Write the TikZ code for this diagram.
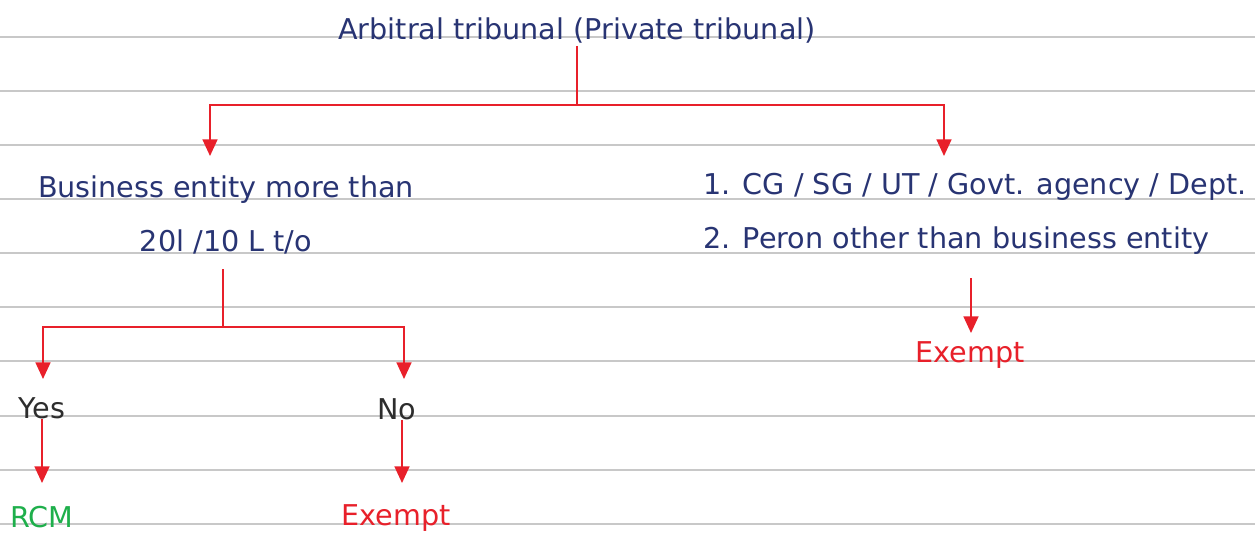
\documentclass[tikz,border=0pt]{standalone}
\usepackage{fontspec}
\setmainfont{DejaVu Sans}
\usetikzlibrary{arrows.meta}
\definecolor{ink}{RGB}{40,52,115}
\definecolor{penred}{RGB}{232,32,42}
\definecolor{pengreen}{RGB}{30,175,75}
\definecolor{rulegray}{RGB}{200,200,200}
\definecolor{darkink}{RGB}{45,45,45}
\begin{document}
\begin{tikzpicture}[x=0.02cm,y=-0.02cm,
  txt/.style={inner sep=0pt, anchor=base, font=\fontsize{16.3}{19}\selectfont, text=ink},
  ltxt/.style={txt, anchor=base west},
  conn/.style={draw=penred, line width=1.1pt},
  arr/.style={conn, -{Triangle[width=8.5pt,length=9.5pt]}},
]
\useasboundingbox (0,0) rectangle (1255,532);
\fill[white] (0,0) rectangle (1255,532);
% ruled paper
\foreach \y in {37,91,145,199,253,307,361,416,470,524}
  \draw[rulegray, line width=1.1pt] (0,\y) -- (1255,\y);

% texts
\node[txt] (title) at (577,39) {Arbitral tribunal (Private tribunal)};
\node[txt] (bizA) at (226,197) {Business entity more than};
\node[txt] (bizB) at (226,251) {20l /10 L t/o};
\node[ltxt] (govA) at (703,194) {1. CG / SG / UT / Govt. agency / Dept.};
\node[ltxt] (govB) at (703,248) {2. Peron other than business entity};
\node[txt, text=darkink] (yes) at (42,418) {Yes};
\node[txt, text=darkink] (no) at (397,419) {No};
\node[txt, text=pengreen] (rcm) at (42,527) {RCM};
\node[txt, text=penred] (exL) at (396,525) {Exempt};
\node[txt, text=penred] (exR) at (970,362) {Exempt};

% junctions and arrow targets
\coordinate (split1) at (577,105);
\coordinate (inA) at (210,156);
\coordinate (inG) at (944,156);
\coordinate (stem2) at (223,269);
\coordinate (split2) at (223,327);
\coordinate (inYes) at (43,379);
\coordinate (inNo) at (404,379);
\coordinate (inRcm) at (42,483);
\coordinate (inExL) at (402,483);
\coordinate (outGov) at (971,278);
\coordinate (inExR) at (971,333);

% connectors
\draw[conn, shorten <=1.5pt] (title.south) -- (split1);
\draw[arr] (split1) -| (inA);
\draw[arr] (split1) -| (inG);
\draw[conn] (stem2) -- (split2);
\draw[arr] (split2) -| (inYes);
\draw[arr] (split2) -| (inNo);
\draw[arr] (yes.south) -- (inRcm);
\draw[arr] (no.south -| inExL) -- (inExL);
\draw[arr] (outGov) -- (inExR);
\end{tikzpicture}
\end{document}
